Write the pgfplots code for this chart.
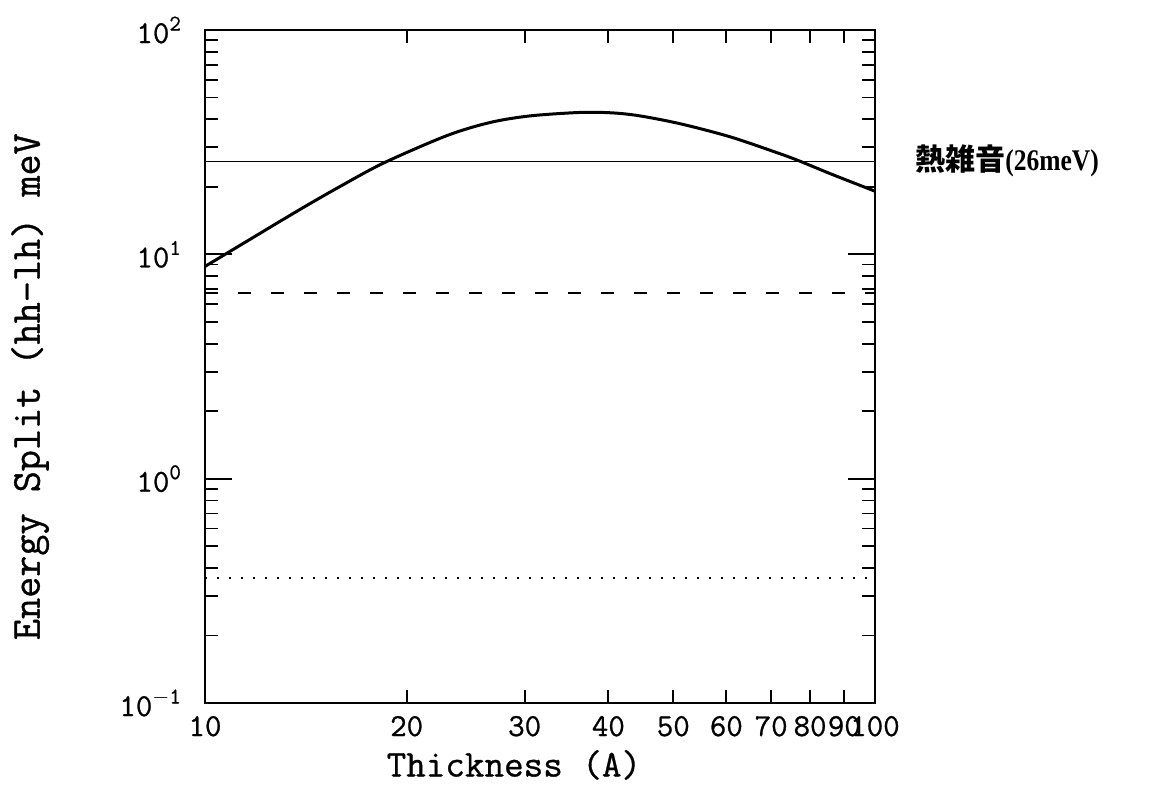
\documentclass[border=0pt]{standalone}
\usepackage{fontspec}
\usepackage{pgfplots}
\pgfplotsset{compat=1.18}
\newfontfamily\jpfont{Noto Sans CJK JP}
\newfontfamily\numfont{Liberation Serif}[FakeStretch=0.85]
\newfontfamily\labelfont{Latin Modern Mono}[FakeBold=0.8]

\begin{document}
\begin{tikzpicture}
\useasboundingbox (-102.5pt,-42.5pt) rectangle (485pt,351.5pt);
\begin{axis}[
  at={(0,0)}, anchor=south west,
  scale only axis, width=335pt, height=336.5pt,
  xmode=log, ymode=log,
  xmin=10, xmax=100, ymin=0.1, ymax=100,
  major tick length=13.5pt, minor tick length=6.5pt,
  xtick={10,20,30,40,50,60,70,80,90,100},
  xticklabels={10,20,30,40,50,60,70,80,90,100},
  major x tick style={draw=none},
  minor xtick={20,30,40,50,60,70,80,90},
  ytick={0.1,1,10,100},
  yticklabels={10\textsuperscript{$-$1},10\textsuperscript{0},10\textsuperscript{1},10\textsuperscript{2}},
  minor ytick={0.2,0.3,0.4,0.5,0.6,0.7,0.8,0.9,2,3,4,5,6,7,8,9,20,30,40,50,60,70,80,90},
  tick align=inside,
  axis line style={line width=1.2pt},
  tick style={line width=0.9pt, black},
  ticklabel style={font=\labelfont\fontsize{16}{16}\selectfont},
  xticklabel style={yshift=-3pt},
  yticklabel style={xshift=-8pt},
  xlabel={Thickness (A)},
  ylabel={Energy Split (hh-lh) meV},
  xlabel style={font=\labelfont\fontsize{19}{19}\selectfont, at={(axis description cs:0.461,-0.092)}, anchor=center},
  ylabel style={font=\labelfont\fontsize{20.5}{20.5}\selectfont, at={(axis description cs:-0.261,0.47)}, anchor=center},
  clip=false,
]
% thermal noise level, 26 meV
\addplot[black, line width=0.7pt] coordinates {(10,26) (100,26)};
\addplot[black, line width=1pt, dash pattern=on 6.5pt off 10pt] coordinates {(10,6.7) (100,6.7)};
\addplot[black, line width=1pt, dash pattern=on 0.9pt off 5.1pt] coordinates {(10,0.36) (100,0.36)};
% hh-lh splitting vs. well thickness
\addplot[black, line width=1.5pt, smooth, tension=0.5] coordinates {
  (10,8.83) (11.75,11.8) (13.86,15.85) (15.85,19.95) (18.46,25.5)
  (22.95,33.8) (26.63,38.7) (30.55,41.4) (36.3,42.9) (40.6,42.7)
  (44.6,41.4) (51.2,38.2) (60.8,33.4) (72.1,28.1) (77.3,26.0)
  (85.7,22.9) (98.3,19.5) (100,19.1)
};
\node[anchor=west, inner sep=0pt] at (axis cs:100,26) [xshift=20pt]
  {\bfseries{\jpfont\fontsize{15}{15}\selectfont 熱雑音}{\numfont\fontsize{15}{15}\selectfont(26meV)}};
\end{axis}
\end{tikzpicture}
\end{document}
